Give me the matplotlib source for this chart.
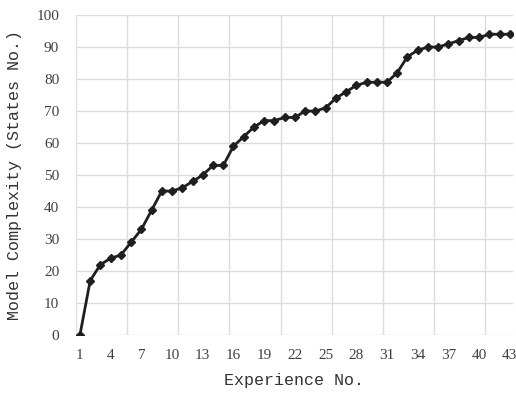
import numpy as np
import matplotlib
matplotlib.use("Agg")
import matplotlib.pyplot as plt

# Data
experience = np.arange(1, 44)
states = [0, 17, 22, 24, 25, 29, 33, 39, 45, 45, 46, 48, 50, 53, 53,
          59, 62, 65, 67, 67, 68, 68, 70, 70, 71, 74, 76, 78, 79, 79,
          79, 82, 87, 89, 90, 90, 91, 92, 93, 93, 94, 94, 94]
x_ticks = np.arange(1, 44, 3)
y_ticks = np.arange(0, 101, 10)

tick_font = {"family": "Liberation Serif", "size": 11}
label_font = {"family": "Liberation Mono", "size": 12}

fig = plt.figure(figsize=(5.16, 3.96), dpi=100)
ax = fig.add_axes([0.147, 0.154, 0.847, 0.808])

ax.plot(experience, states, color="#1f1f1f", linewidth=2,
        marker="D", markersize=4.5, zorder=3)

ax.set_xlim(0.6, 43.3)
ax.set_ylim(0, 100)

# gridlines - vertical ones every 5 categories, labels every 3
ax.set_xticks(x_ticks)
ax.set_xticks(np.arange(0.6, 43, 5), minor=True)
ax.set_yticks(y_ticks)
ax.grid(False)
ax.grid(True, which="minor", axis="x", color="#dcdce0", linewidth=1)
ax.grid(True, which="major", axis="y", color="#dcdce0", linewidth=1)
ax.set_axisbelow(True)

ax.tick_params(which="both", length=0)
ax.tick_params(axis="x", pad=10)
ax.tick_params(axis="y", pad=12)
for lbl in ax.get_xticklabels() + ax.get_yticklabels():
    lbl.set_fontfamily(tick_font["family"])
    lbl.set_fontsize(tick_font["size"])
    lbl.set_color("#404040")

for s in ax.spines.values():
    s.set_visible(False)

ax.set_xlabel("Experience No.", fontdict=label_font, color="#333333", labelpad=8)
ax.set_ylabel("Model Complexity (States No.)", fontdict=label_font,
              color="#333333", labelpad=10)

fig.savefig("out.png", dpi=100)
